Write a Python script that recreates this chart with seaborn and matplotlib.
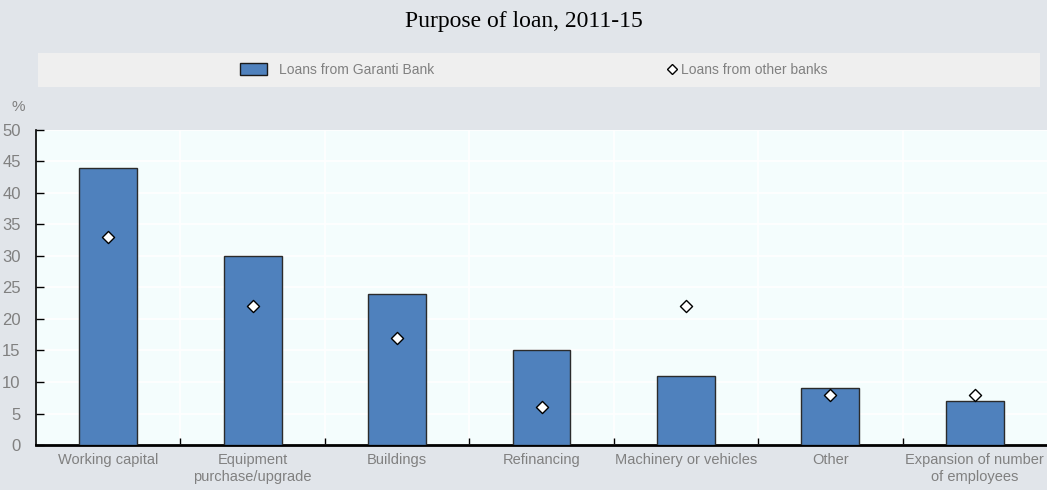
import matplotlib
matplotlib.use("Agg")
import matplotlib.pyplot as plt
from matplotlib.patches import Rectangle
from matplotlib.lines import Line2D
from matplotlib.ticker import MultipleLocator, FixedLocator
import seaborn as sns
import pandas as pd
import numpy as np

categories = ["Working capital", "Equipment\npurchase/upgrade", "Buildings",
              "Refinancing", "Machinery or vehicles", "Other",
              "Expansion of number\nof employees"]
garanti = [44, 30, 24, 15, 11, 9, 7]
other_banks = [33, 22, 17, 6, 22, 8, 8]

fig_bg = "#e1e5ea"
plot_bg = "#f4fdfd"
bar_color = "#4f81bd"
text_gray = "#808080"

sns.set_theme(style="white")
plt.rcParams["font.family"] = ["Liberation Sans", "DejaVu Sans"]

df = pd.DataFrame({"category": categories, "garanti": garanti, "other": other_banks})

fig = plt.figure(figsize=(10.47, 4.9), dpi=100, facecolor=fig_bg)
ax = fig.add_axes([0.0344, 0.0918, 0.9656, 0.643])
ax.set_facecolor(plot_bg)

sns.barplot(data=df, x="category", y="garanti", color=bar_color, width=0.4,
            edgecolor="#2b2b2b", linewidth=1.0, saturation=1, ax=ax, zorder=3)
sns.scatterplot(data=df, x="category", y="other", marker="D", s=38,
                color="white", edgecolor="black", linewidth=1.0, ax=ax, zorder=4)

ax.set_xlim(-0.5, len(categories) - 0.5)
ax.set_ylim(0, 50)
ax.yaxis.set_major_locator(MultipleLocator(5))

# category boundaries carry the small ticks and vertical grid lines
bounds = np.arange(0.5, len(categories) - 0.5, 1.0)
ax.xaxis.set_minor_locator(FixedLocator(bounds))
ax.tick_params(axis="x", which="major", length=0, pad=6, labelsize=10.5, labelcolor=text_gray)
ax.tick_params(axis="x", which="minor", length=5, width=1, direction="in", color="black", bottom=True)
ax.tick_params(axis="y", which="major", length=6, width=1, direction="in", color="black",
               left=True, pad=11, labelsize=12, labelcolor=text_gray)

ax.grid(True, axis="y", which="major", color="white", linewidth=1.2, zorder=0)
ax.grid(True, axis="x", which="minor", color="white", linewidth=1.2, zorder=0)
ax.set_axisbelow(True)

for side in ["top", "right"]:
    ax.spines[side].set_visible(False)
ax.spines["left"].set_color("black")
ax.spines["left"].set_linewidth(1.2)
ax.spines["bottom"].set_color("black")
ax.spines["bottom"].set_linewidth(2.0)

ax.set_xlabel("")
ax.set_ylabel("")
fig.text(0.0172, 0.782, "%", ha="center", va="center", fontsize=11, color=text_gray)

fig.text(0.5, 0.957, "Purpose of loan, 2011-15", ha="center", va="center",
         fontsize=17, family="Liberation Serif", color="black")

# legend strip
fig.patches.append(Rectangle((0.036, 0.823), 0.957, 0.069, transform=fig.transFigure,
                             facecolor="#efefef", edgecolor="none", zorder=0))
h1 = Rectangle((0, 0), 1, 1, facecolor=bar_color, edgecolor="#1a1a1a", linewidth=1.0)
h2 = Line2D([], [], marker="D", linestyle="none", markersize=5.5,
            markerfacecolor="white", markeredgecolor="black", markeredgewidth=1.0)
leg1 = fig.legend([h1], ["Loans from Garanti Bank"], loc="center left",
                  bbox_to_anchor=(0.217, 0.858), frameon=False, fontsize=10,
                  handlelength=2.0, handleheight=0.9, handletextpad=0.8,
                  labelcolor=text_gray)
leg2 = fig.legend([h2], ["Loans from other banks"], loc="center left",
                  bbox_to_anchor=(0.625, 0.858), frameon=False, fontsize=10,
                  handlelength=0.8, handletextpad=0.2, labelcolor=text_gray)

fig.savefig("out.png", dpi=100, facecolor=fig_bg)
